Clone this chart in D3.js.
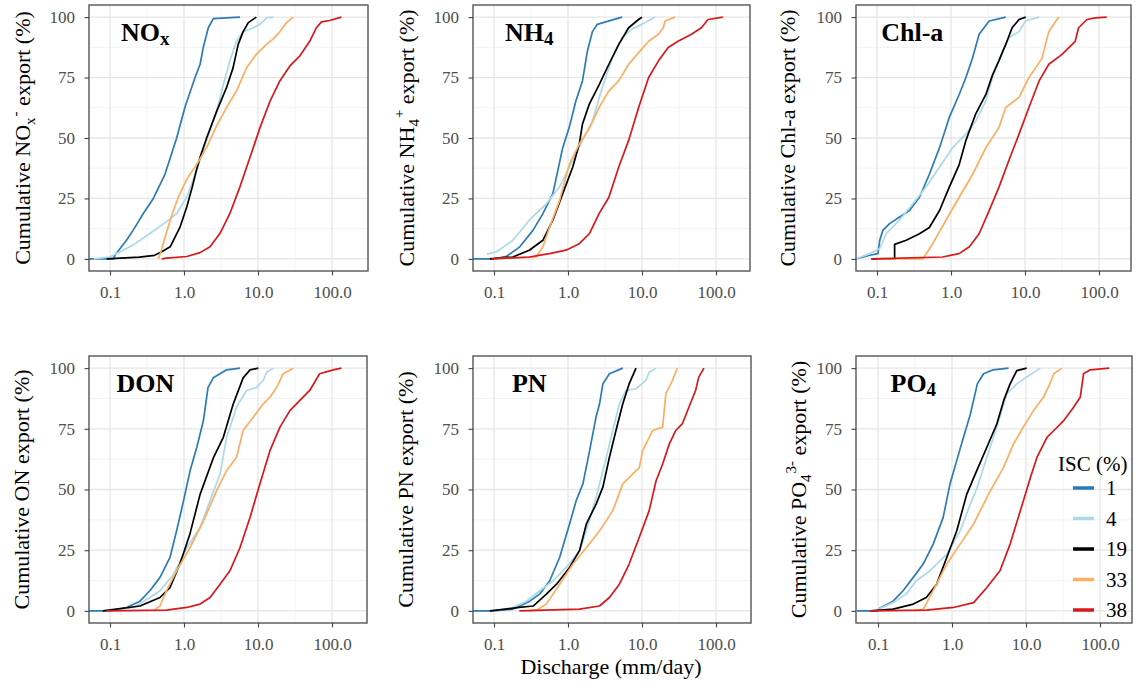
<!DOCTYPE html>
<html><head><meta charset="utf-8">
<script src="https://cdn.jsdelivr.net/npm/d3@7"></script>
<style>
body{margin:0;background:#fff}
svg{display:block}
</style>
</head><body>
<svg id="c" width="1138" height="685"></svg>
<script>
// ---------- data ----------
const iscLevels = ["1", "4", "19", "33", "38"];
const iscColors = ["#2c7bb6", "#abd9e9", "#000000", "#fdae61", "#d7191c"];
const xTickValues = [0.1, 1, 10, 100];
const xTickLabels = ["0.1", "1.0", "10.0", "100.0"];
const yTickValues = [0, 25, 50, 75, 100];
const yTickLabels = ["0", "25", "50", "75", "100"];
const xTitle = "Discharge (mm/day)";
const legendTitle = "ISC (%)";

// each series: [discharge (mm/day), cumulative export (%)]
const noxSeries = [
  [[0.052,0],[0.111,0],[0.117,1.6],[0.168,7.8],[0.207,12],[0.282,18.8],[0.385,25],[0.553,35],[0.796,50],[1.03,62.7],[1.41,75],[1.65,80.5],[1.82,87.4],[2.13,95.6],[2.49,99.4],[5.7,100]],
  [[0.06,0],[0.1,0.8],[0.136,3],[0.207,5.8],[0.35,10.6],[0.58,15.4],[0.8,18.8],[1.09,25.6],[1.48,36.6],[2.02,49],[2.76,61],[3.4,72],[4.17,82],[5.13,90],[6.3,94],[7.8,95],[10.7,97],[13.1,99.7],[16.1,100]],
  [[0.09,0],[0.25,0.7],[0.4,1.5],[0.5,3],[0.65,5],[0.88,13],[1.09,21.5],[1.3,30],[1.48,37],[1.65,42],[2.02,50],[2.76,61],[3.77,71],[4.6,79],[5.4,88.7],[6.3,94],[7.4,97.7],[9.5,100]],
  [[0.45,0],[0.5,4],[0.58,11],[0.7,19],[0.85,26],[1.09,33],[1.48,39],[2.02,46],[2.76,55],[3.77,62.7],[5.13,69.5],[7.0,79],[9.5,84.6],[13.1,88.8],[16.1,91],[19.8,94],[24.3,97.7],[30,100]],
  [[0.5,0],[0.58,0.3],[1.09,1],[1.65,2.6],[2.25,5],[3.07,10.6],[4.17,18.8],[5.7,29.8],[7.8,42],[10.7,54.5],[14.6,65.4],[19.8,73.7],[27,79.8],[36.8,84],[50,90],[61.6,95.6],[72,98],[93,98.6],[134,100]]
];
const nh4Series = [
  [[0.052,0],[0.1,0],[0.148,1.1],[0.223,5],[0.336,11.8],[0.458,18.7],[0.624,27],[0.849,46],[1.04,54.4],[1.28,65.4],[1.57,73.6],[1.83,86],[2.14,94],[2.49,97],[3.23,98],[5.4,100]],
  [[0.08,2],[0.108,2.9],[0.18,7.7],[0.30,16],[0.51,22.8],[0.766,29.7],[1.04,38],[1.57,49],[2.14,57],[2.91,71],[3.96,83],[5.4,91.5],[7.3,95],[10,97],[15.1,100]],
  [[0.088,0],[0.18,0.8],[0.30,3.6],[0.458,7.7],[0.624,16],[0.849,27],[1.16,38],[1.42,47.5],[1.57,55.8],[1.94,64],[2.63,72],[3.57,80.5],[4.85,88.7],[6.6,95.6],[9.0,99],[10,100]],
  [[0.1,0],[0.373,0.8],[0.458,5],[0.563,13],[0.766,24],[1.04,39],[1.42,47.5],[1.94,54],[2.63,62.6],[3.57,69.5],[4.85,73.6],[6.6,80.5],[9.0,85.3],[12.3,90],[16.7,92.9],[19.4,95.6],[20.5,98.4],[27.8,100]],
  [[0.093,0],[0.30,0.8],[0.563,2.2],[0.94,3.6],[1.42,6.3],[1.94,10.4],[2.63,18.7],[3.57,25.5],[4.85,38],[6.6,49],[9.0,62.6],[12.3,75],[16.7,81.9],[22.6,87.4],[30.7,90],[46.6,92.9],[63.5,95.6],[78,99],[124,100]]
];
const chlSeries = [
  [[0.052,0],[0.08,1.5],[0.103,2.2],[0.109,7.7],[0.12,11.8],[0.148,14.6],[0.202,17.3],[0.275,20],[0.375,25.5],[0.51,35],[0.7,46],[0.948,58.5],[1.29,68],[1.59,75],[1.95,83],[2.4,92.9],[3.28,98.4],[5.5,100]],
  [[0.052,0],[0.08,2.2],[0.109,4.3],[0.133,10.4],[0.2,16],[0.305,22.8],[0.46,29.7],[0.7,38],[1.05,46],[1.59,51.6],[2.16,57],[2.96,65.4],[3.63,75],[4.95,86],[6.05,91.5],[8.3,94],[10.2,98.4],[15.5,100]],
  [[0.084,0],[0.173,0],[0.173,6],[0.248,7.7],[0.375,10.4],[0.51,13],[0.7,20],[0.948,29.7],[1.29,39],[1.59,49],[2.16,60],[2.96,68],[3.63,76],[4.45,82],[5.5,88.7],[6.7,95.6],[8.3,99],[10.2,100]],
  [[0.1,0],[0.416,0],[0.566,6.3],[0.855,16],[1.29,25.5],[1.96,35],[2.96,46],[4.45,54.4],[5.5,62.6],[8.3,66.8],[11.3,75],[13.9,79],[17,83],[18.9,88.7],[21,94],[28.5,100]],
  [[0.084,0],[0.77,0.8],[1.29,2.2],[1.77,5],[2.4,10.4],[3.28,20],[4.45,29.7],[6.05,40.7],[8.3,51.6],[11.3,62.6],[15.5,73.6],[21,80.5],[31.7,84.6],[47.7,90],[53,95.6],[68.7,99],[89,99.7],[127,100]]
];
const donSeries = [
  [[0.052,0],[0.1,0],[0.168,1.4],[0.254,4],[0.346,8.3],[0.474,13.8],[0.646,22],[0.795,33],[0.98,45],[1.21,57.8],[1.49,67.4],[1.83,78.4],[2.11,92],[2.49,96],[3.77,99.3],[5.7,100]],
  [[0.09,0],[0.21,1.4],[0.346,5.5],[0.474,8.3],[0.72,15],[1.09,26],[1.65,34.4],[2.25,45.4],[3.07,56.4],[3.77,71.5],[5.13,84],[7.0,90.8],[9.5,92],[11.8,95],[13.1,98.3],[16.1,100]],
  [[0.08,0],[0.254,2],[0.474,5.5],[0.646,9.6],[0.88,19.3],[1.2,31.6],[1.65,48],[2.49,63],[3.4,71.5],[4.6,85],[6.3,96],[7.8,99.3],[10.1,100]],
  [[0.385,0],[0.474,2],[0.58,8.3],[0.795,16.5],[1.2,26],[1.83,37],[2.76,49.5],[3.77,57.8],[5.13,63.3],[6.3,74.3],[8.6,79.8],[11.8,85.3],[14.5,88],[17.8,92],[21.9,97.7],[30,100]],
  [[0.09,0],[0.58,0.3],[1.09,1.4],[1.65,2.8],[2.25,5.5],[3.07,11],[4.17,16.5],[5.7,26],[7.8,38.5],[10.6,52.3],[14.5,66],[19.8,75.7],[27,82.5],[36.8,86.7],[50,90.8],[68,97.7],[104,99.3],[134,100]]
];
const pnSeries = [
  [[0.052,0],[0.1,0],[0.18,0.7],[0.305,4],[0.416,7],[0.566,12.4],[0.77,22],[1.05,35.8],[1.29,45.4],[1.59,52.3],[1.96,66],[2.4,80],[2.67,85.3],[2.96,93.5],[3.63,97.7],[5.5,100]],
  [[0.1,0],[0.18,1.4],[0.275,4],[0.416,8.3],[0.63,12.4],[0.95,17.9],[1.43,24.8],[1.77,33],[2.4,46.8],[3.3,63.3],[4.03,74.3],[4.95,85.3],[6.05,90.8],[8.3,91.5],[11.3,95],[12.5,98.3],[15.5,100]],
  [[0.088,0],[0.22,1.4],[0.338,2],[0.51,6.9],[0.7,11],[1.05,17.9],[1.43,24.8],[1.77,35.8],[2.4,44],[2.96,51],[3.63,63.3],[4.45,74.3],[5.5,85.3],[6.7,93.5],[8.3,100]],
  [[0.3,0],[0.375,0.3],[0.51,2.8],[0.77,11],[1.17,19.3],[1.77,26],[2.67,33],[4.03,41.3],[5.5,52.3],[7.5,56.4],[9.2,59],[10.2,66],[13.9,74.3],[19,75.7],[21,89.4],[25.8,95],[30,100]],
  [[0.22,0],[1.43,0.7],[2.67,2],[3.63,5.5],[4.95,11],[6.7,19.3],[9.2,30.3],[12.5,41.3],[15.5,53.6],[19,60.5],[23.4,68.8],[28.5,74.3],[35,77],[43,83.9],[53,90.8],[58.5,96.3],[68.7,100]]
];
const po4Series = [
  [[0.052,0],[0.1,0],[0.105,1.1],[0.16,4],[0.218,8.3],[0.3,13.8],[0.408,19.3],[0.557,27.5],[0.76,38.5],[0.94,52.3],[1.16,62],[1.43,71.5],[1.77,81],[2.2,93.5],[2.67,97.7],[3.6,99.3],[5.8,100]],
  [[0.09,0],[0.16,3.4],[0.24,6.9],[0.33,12.4],[0.5,16.5],[0.85,23.4],[1.29,33],[1.77,44],[2.2,50.9],[2.96,63.3],[4.03,75.7],[5.5,89.4],[7.5,93.5],[10.2,96.3],[15.6,100]],
  [[0.08,0],[0.16,0.7],[0.3,2.8],[0.45,5.5],[0.62,11],[0.85,22],[1.16,33],[1.58,48],[2.16,57.8],[2.96,67.4],[4.03,77],[5.0,86.7],[6.1,93.5],[7.5,99],[10.2,100]],
  [[0.3,0],[0.41,0.7],[0.557,8.3],[0.85,19.3],[1.29,27.5],[1.96,35.8],[3.3,49.5],[4.95,59],[6.8,68.8],[9.2,75.7],[12.6,82.5],[17.2,88],[21,93.5],[23.8,97.7],[30.7,100]],
  [[0.077,0],[0.45,0.3],[1.05,1.4],[1.96,3.4],[2.96,9.6],[4.45,16.5],[6.1,27.5],[8.4,41.3],[11.5,55],[14.1,63.3],[19.2,71.5],[23.8,74.3],[32.4,78.4],[44,83.9],[54,88],[60,97.7],[74,99.3],[133,100]]
];

// panel label parts: [main, subscript]
const panelLabels = [["NO","x"],["NH","4"],["Chl-a",""],["DON",""],["PN",""],["PO","4"]];
// y titles: [before, sub, sup, after]
const yTitles = [
  ["Cumulative NO","x","-"," export (%)"],
  ["Cumulative NH","4","+"," export (%)"],
  ["Cumulative Chl-a export (%)","","",""],
  ["Cumulative ON export (%)","","",""],
  ["Cumulative PN export (%)","","",""],
  ["Cumulative PO","4","3-"," export (%)"]
];
const panelSeries = [noxSeries, nh4Series, chlSeries, donSeries, pnSeries, po4Series];

// ---------- layout ----------
const FONT = "'Liberation Serif', 'Times New Roman', 'DejaVu Serif', serif";
const boxes = [
  {l:89,  r:368,  t:5,   b:271, tx:29.5, off:21},
  {l:473, r:750,  t:5,   b:271, tx:414,  off:21},
  {l:856, r:1131, t:5,   b:271, tx:795,  off:21},
  {l:89,  r:367,  t:356, b:623, tx:28.5, off:21},
  {l:473, r:751,  t:356, b:623, tx:413,  off:21},
  {l:856, r:1132, t:356, b:623, tx:806,  off:22}
];
const decadePx = 74;

const svg = d3.select("#c");

boxes.forEach((p, i) => {
  const xmin = 0.1 / Math.pow(10, p.off / decadePx);
  const xmax = xmin * Math.pow(10, (p.r - p.l) / decadePx);
  const x = d3.scaleLog().domain([xmin, xmax]).range([p.l, p.r]);
  const y = d3.scaleLinear().domain([-5, 105]).range([p.b, p.t]);
  const g = svg.append("g");

  // grid
  const minorX = [];
  xTickValues.forEach(v => { minorX.push(v * Math.sqrt(10)); minorX.push(v / Math.sqrt(10)); });
  const mx = Array.from(new Set(minorX.map(v => +v.toPrecision(6)))).filter(v => v > xmin && v < xmax);
  const minorY = [12.5, 37.5, 62.5, 87.5];
  g.selectAll(".mgx").data(mx).join("line")
    .attr("x1", d => x(d)).attr("x2", d => x(d)).attr("y1", p.t).attr("y2", p.b)
    .attr("stroke", "#f0f0f0").attr("stroke-width", 0.8);
  g.selectAll(".mgy").data(minorY).join("line")
    .attr("y1", d => y(d)).attr("y2", d => y(d)).attr("x1", p.l).attr("x2", p.r)
    .attr("stroke", "#f0f0f0").attr("stroke-width", 0.8);
  g.selectAll(".gx").data(xTickValues).join("line")
    .attr("x1", d => x(d)).attr("x2", d => x(d)).attr("y1", p.t).attr("y2", p.b)
    .attr("stroke", "#e6e6e6").attr("stroke-width", 1.3);
  g.selectAll(".gy").data(yTickValues).join("line")
    .attr("y1", d => y(d)).attr("y2", d => y(d)).attr("x1", p.l).attr("x2", p.r)
    .attr("stroke", "#e6e6e6").attr("stroke-width", 1.3);

  // clip
  const cid = "clip" + i;
  svg.append("clipPath").attr("id", cid).append("rect")
    .attr("x", p.l).attr("y", p.t).attr("width", p.r - p.l).attr("height", p.b - p.t);

  const line = d3.line().x(d => x(d[0])).y(d => y(d[1]));
  const lg = g.append("g").attr("clip-path", `url(#${cid})`);
  panelSeries[i].forEach((s, k) => {
    lg.append("path").datum(s).attr("d", line)
      .attr("fill", "none").attr("stroke", iscColors[k])
      .attr("stroke-width", 1.7).attr("stroke-linejoin", "round");
  });

  // border
  g.append("rect").attr("x", p.l).attr("y", p.t).attr("width", p.r - p.l).attr("height", p.b - p.t)
    .attr("fill", "none").attr("stroke", "#555").attr("stroke-width", 1.4);

  // axes
  const ax = g.append("g").attr("transform", `translate(0,${p.b})`)
    .call(d3.axisBottom(x).tickValues(xTickValues).tickFormat((d, j) => xTickLabels[j]).tickSize(4.5).tickPadding(10.5));
  const ay = g.append("g").attr("transform", `translate(${p.l},0)`)
    .call(d3.axisLeft(y).tickValues(yTickValues).tickFormat((d, j) => yTickLabels[j]).tickSize(4.5).tickPadding(9.5));
  [ax, ay].forEach(a => {
    a.select(".domain").remove();
    a.attr("font-family", FONT).attr("font-size", 17);
    a.selectAll("line").attr("stroke", "#444").attr("stroke-width", 1.1);
    a.selectAll("text").attr("fill", "#4d4d4d");
  });

  // panel label
  const pl = panelLabels[i];
  const t = g.append("text").attr("x", x(0.3)).attr("y", y(90))
    .attr("text-anchor", "middle").attr("font-weight", "bold").attr("font-size", 26);
  t.append("tspan").text(pl[0]);
  if (pl[1]) t.append("tspan").attr("dy", 4).attr("font-size", 19).text(pl[1]);

  // y title
  const yt = yTitles[i];
  const cy = (p.t + p.b) / 2;
  const tt = g.append("text").attr("transform", `translate(${p.tx},${cy}) rotate(-90)`)
    .attr("text-anchor", "middle").attr("font-size", 22).attr("fill", "#000");
  tt.append("tspan").text(yt[0]);
  if (yt[1]) {
    tt.append("tspan").attr("dy", 5).attr("font-size", 15).text(yt[1]);
    tt.append("tspan").attr("dy", -15).attr("dx", 1).attr("font-size", 15).text(yt[2]);
    tt.append("tspan").attr("dy", 10).text(yt[3]);
  }

  // legend in last panel
  if (i === 5) {
    const lgd = g.append("g");
    lgd.append("text").attr("x", 1058).attr("y", 471).attr("font-size", 21).text(legendTitle);
    iscLevels.forEach((lv, k) => {
      const yy = 488 + k * 30.5;
      lgd.append("line").attr("x1", 1073).attr("x2", 1094).attr("y1", yy).attr("y2", yy)
        .attr("stroke", iscColors[k]).attr("stroke-width", 3.5);
      lgd.append("text").attr("x", 1106).attr("y", yy).attr("dy", "0.35em")
        .attr("font-size", 21).text(lv);
    });
  }
});

// x title
svg.append("text").attr("x", 611).attr("y", 674).attr("text-anchor", "middle")
  .attr("font-size", 22).text(xTitle);

svg.selectAll("text").attr("font-family", FONT);
</script>
</body></html>
